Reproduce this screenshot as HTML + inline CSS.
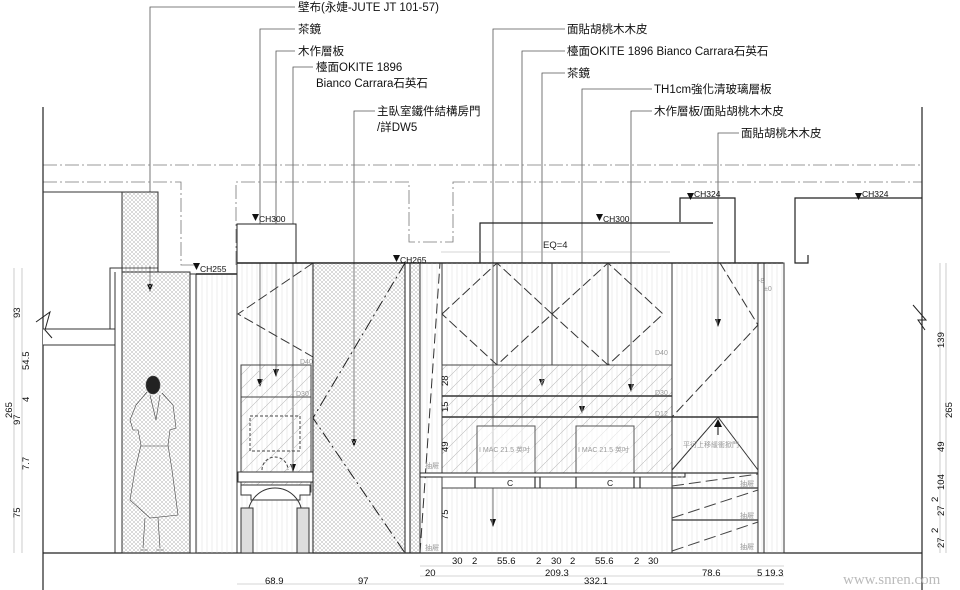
<!DOCTYPE html>
<html><head><meta charset="utf-8"><style>
html,body{margin:0;padding:0;background:#fff;}
svg{display:block;}
text{font-family:"Liberation Sans","Noto Sans CJK TC",sans-serif;fill:#111;}
.lab{font-size:11.5px;}
.dim{font-size:9.5px;fill:#222;}
.ch{font-size:8.5px;}
.g{font-size:7px;fill:#999;}
</style></head><body>
<svg width="960" height="590" viewBox="0 0 960 590" xmlns="http://www.w3.org/2000/svg">
<defs>
<pattern id="xh" width="4" height="4" patternUnits="userSpaceOnUse">
<path d="M0,0L4,4M4,0L0,4" stroke="#b5b5b5" stroke-width="0.5"/></pattern>
<pattern id="dg" width="14" height="14" patternUnits="userSpaceOnUse">
<path d="M0,14L14,0" stroke="#bbb" stroke-width="0.6"/></pattern>
<pattern id="vl" width="5" height="10" patternUnits="userSpaceOnUse">
<path d="M2,0V10" stroke="#e2e2e2" stroke-width="0.6"/></pattern>
</defs>

<!-- leaders -->
<g stroke="#555" stroke-width="0.8" fill="none">
<path d="M150,290V7H295"/><path d="M260,385V29H295"/><path d="M276,375V51H295"/>
<path d="M293,470V67H313"/><path d="M354,445V111H375"/>
<path d="M493,525V29H565"/><path d="M522,480V51H565"/><path d="M542,385V73H565"/>
<path d="M582,412V89H652"/><path d="M631,390V111H652"/><path d="M718,325V133H739"/>
</g>
<g fill="#111">
<path d="M147,284h6l-3,8z"/><path d="M257,379h6l-3,8z"/><path d="M273,369h6l-3,8z"/>
<path d="M290,464h6l-3,8z"/><path d="M351,439h6l-3,8z"/><path d="M490,519h6l-3,8z"/>
<path d="M519,474h6l-3,8z"/><path d="M539,379h6l-3,8z"/><path d="M579,406h6l-3,8z"/>
<path d="M628,384h6l-3,8z"/><path d="M715,319h6l-3,8z"/>
</g>
<text class="lab" x="298" y="11">壁布(永婕-JUTE JT 101-57)</text>
<text class="lab" x="298" y="33">茶鏡</text>
<text class="lab" x="298" y="55">木作層板</text>
<text class="lab" x="316" y="71">檯面OKITE 1896</text>
<text class="lab" x="316" y="87">Bianco Carrara石英石</text>
<text class="lab" x="377" y="115">主臥室鐵件結構房門</text>
<text class="lab" x="377" y="131">/詳DW5</text>
<text class="lab" x="567" y="33">面貼胡桃木木皮</text>
<text class="lab" x="567" y="55">檯面OKITE 1896  Bianco Carrara石英石</text>
<text class="lab" x="567" y="77">茶鏡</text>
<text class="lab" x="654" y="93">TH1cm強化清玻璃層板</text>
<text class="lab" x="654" y="115">木作層板/面貼胡桃木木皮</text>
<text class="lab" x="741" y="137">面貼胡桃木木皮</text>

<!-- dash-dot ceiling -->
<g stroke="#777" stroke-width="0.8" fill="none" stroke-dasharray="14,3,2,3">
<path d="M43,165H922"/>
<path d="M43,182H181V265H196"/>
<path d="M236,265V182H409V242H453V182H922"/>
</g>

<!-- walls -->
<g stroke="#222" stroke-width="1.2" fill="none">
<path d="M43,107V590"/><path d="M922,107V590"/>
<path d="M43,553H922"/>
</g>
<g stroke="#333" stroke-width="1" fill="#fff">
<path d="M43,192H158V272"/>
<path d="M43,329H115V345H43"/>
<path d="M110,272V268H158"/>
</g>
<rect x="122" y="192" width="36" height="80" fill="url(#xh)" stroke="#333"/>
<rect x="122" y="272" width="68" height="281" fill="url(#xh)" stroke="#333"/>
<path d="M115,272V553M110,272V329" stroke="#333" fill="none"/>
<path d="M36,322L50,312L45,330L52,338" stroke="#222" fill="none"/>
<path d="M913,305L926,320L918,320L925,330" stroke="#222" fill="none"/>
<rect x="190" y="274" width="6" height="279" fill="#fff" stroke="#333"/>
<rect x="196" y="274" width="41" height="279" fill="url(#vl)" stroke="#333" stroke-width="0.6"/>
<path d="M196,274H237" stroke="#222" stroke-width="1.4"/>
<path d="M193,263h7l-3.5,7z" fill="#111"/><text class="ch" x="200" y="272">CH255</text>

<!-- left cabinet -->
<rect x="237" y="224" width="59" height="39" fill="#fff" stroke="#222"/>
<path d="M252,214h7l-3.5,7z" fill="#111"/><text class="ch" x="259" y="222">CH300</text>
<rect x="237" y="263" width="76" height="290" fill="url(#vl)" stroke="#333"/>
<path d="M237,263H420" stroke="#222" stroke-width="1.4"/>
<rect x="241" y="365" width="70" height="32" fill="url(#dg)" stroke="#444"/>
<rect x="241" y="397" width="70" height="95" fill="url(#dg)" stroke="#444"/>
<rect x="250" y="416" width="50" height="35" fill="none" stroke="#444" stroke-dasharray="3,2"/>
<path d="M262,470a13,13 0 0 1 26,0" fill="none" stroke="#444" stroke-dasharray="3,2"/>
<path d="M238,472H313V482H238Z" fill="#fff" stroke="#333"/>
<path d="M241,485H310V495H300V500H251V495H241Z" fill="#fff" stroke="#333"/>
<path d="M248,553V515A27,27 0 0 1 302,515V553" fill="none" stroke="#333"/>
<rect x="241" y="508" width="12" height="45" fill="#ddd" stroke="#333"/>
<rect x="297" y="508" width="12" height="45" fill="#ddd" stroke="#333"/>
<path d="M313,263L238,314L313,357" stroke="#333" fill="none" stroke-dasharray="10,4"/>
<text class="g" x="300" y="364">D40</text><text class="g" x="296" y="396">D30</text>

<!-- door -->
<rect x="313" y="263" width="92" height="290" fill="url(#xh)" stroke="#222"/>
<path d="M405,263L313,418L405,553" stroke="#222" fill="none" stroke-dasharray="12,4,2,4"/>
<path d="M405,263V553M410,263V553M420,263V553" stroke="#222"/>
<rect x="410" y="263" width="10" height="290" fill="url(#xh)" stroke="#222"/>
<path d="M393,255h7l-3.5,7z" fill="#111"/><text class="ch" x="400" y="263">CH265</text>

<!-- right cabinet -->
<path d="M480,263V223H713" fill="none" stroke="#222" stroke-width="1.2"/>
<path d="M596,214h7l-3.5,7z" fill="#111"/><text class="ch" x="603" y="222">CH300</text>
<path d="M680,222V198H735V263" fill="none" stroke="#222" stroke-width="1.2"/>
<path d="M687,193h7l-3.5,7z" fill="#111"/><text class="ch" x="694" y="197">CH324</text>
<path d="M922,198H795V263H808V255" fill="none" stroke="#222" stroke-width="1.2"/>
<path d="M855,193h7l-3.5,7z" fill="#111"/><text class="ch" x="862" y="197">CH324</text>
<text class="dim" x="543" y="248">EQ=4</text>
<path d="M441,252H670" stroke="#aaa" stroke-width="0.6"/>
<path d="M420,263H783" stroke="#222" stroke-width="1.4"/>
<rect x="420" y="263" width="22" height="290" fill="url(#vl)" stroke="#333"/>
<path d="M420,553L440,263" stroke="#333" stroke-dasharray="10,5" fill="none"/>
<rect x="442" y="263" width="230" height="290" fill="url(#vl)" stroke="#333"/>
<path d="M497,263V365M552,263V365M608,263V365" stroke="#444"/>
<path d="M442,314L497,263L552,314L497,365ZM552,314L608,263L663,314L608,365Z" fill="none" stroke="#333" stroke-dasharray="10,4"/>
<rect x="442" y="365" width="230" height="108" fill="url(#dg)" stroke="#444"/>
<path d="M442,396H672M442,417H672" stroke="#333" stroke-width="1.4"/>
<rect x="477" y="426" width="58" height="47" fill="#fff" fill-opacity="0.6" stroke="#555"/>
<rect x="576" y="426" width="58" height="47" fill="#fff" fill-opacity="0.6" stroke="#555"/>
<text class="g" x="479" y="452">I MAC 21.5 英吋</text><text class="g" x="578" y="452">I MAC 21.5 英吋</text>
<rect x="420" y="473" width="265" height="4" fill="#fff" stroke="#222"/>
<rect x="442" y="477" width="230" height="11" fill="#fff" stroke="#444"/>
<path d="M475,477V488M535,477V488M540,477V488M576,477V488M634,477V488M640,477V488" stroke="#333" stroke-width="1.2"/>
<text class="ch" x="507" y="486">C</text><text class="ch" x="607" y="486">C</text>
<text class="g" x="655" y="355">D40</text><text class="g" x="655" y="395">D30</text><text class="g" x="655" y="416">D12</text>
<rect x="672" y="263" width="86" height="290" fill="url(#vl)" stroke="#333"/>
<path d="M672,417H758" stroke="#333" stroke-width="1.4"/>
<path d="M720,263L758,325L672,417" fill="none" stroke="#333" stroke-dasharray="10,4"/>
<path d="M672,470L718,417L758,470" fill="none" stroke="#333"/>
<path d="M718,420V435" stroke="#111"/><path d="M714,427l4,-8l4,8z" fill="#111"/>
<text class="g" x="683" y="447">平行上移緩衝掀門</text>
<path d="M672,473H758M672,488H758M672,520H758" stroke="#333" stroke-width="1.2"/>
<path d="M672,486L758,474M672,518L758,490M672,551L758,522" stroke="#444" stroke-dasharray="12,5"/>
<text class="g" x="740" y="486">抽屜</text><text class="g" x="740" y="518">抽屜</text><text class="g" x="740" y="549">抽屜</text>
<rect x="758" y="263" width="26" height="290" fill="url(#vl)" stroke="#333"/>
<path d="M764,263V553" stroke="#333"/>
<text class="g" x="758" y="283">-8</text><text class="g" x="764" y="291">±0</text>
<text class="g" x="425" y="468">抽屜</text><text class="g" x="425" y="550">抽屜</text>

<!-- person -->
<g stroke="#444" fill="none" stroke-width="0.6">
<ellipse cx="153" cy="385" rx="7" ry="9" fill="#222"/>
<path d="M147,392L136,405L130,420L133,430L138,430L141,445L135,470L130,500L150,518L178,515L172,470L168,445L170,430L176,428L173,405L162,393"/>
<path d="M150,395L156,420L160,395"/><path d="M141,446H168"/>
<path d="M145,518L143,548M158,518L160,548"/><path d="M140,550h8M156,550h8"/>
</g>

<!-- left dims -->
<g stroke="#aaa" stroke-width="0.6"><path d="M14,268V553M22,268V553"/></g>
<g class="dim">
<text transform="translate(20,318) rotate(-90)">93</text>
<text transform="translate(29,370) rotate(-90)">54.5</text>
<text transform="translate(29,402) rotate(-90)">4</text>
<text transform="translate(20,425) rotate(-90)">97</text>
<text transform="translate(12,418) rotate(-90)">265</text>
<text transform="translate(29,470) rotate(-90)">7.7</text>
<text transform="translate(20,518) rotate(-90)">75</text>
<text transform="translate(448,386) rotate(-90)">28</text>
<text transform="translate(448,412) rotate(-90)">15</text>
<text transform="translate(448,452) rotate(-90)">49</text>
<text transform="translate(448,520) rotate(-90)">75</text>
</g>
<g stroke="#aaa" stroke-width="0.6"><path d="M940,263V553M946,263V553"/></g>
<g class="dim">
<text transform="translate(944,348) rotate(-90)">139</text>
<text transform="translate(952,418) rotate(-90)">265</text>
<text transform="translate(944,452) rotate(-90)">49</text>
<text transform="translate(944,490) rotate(-90)">104</text>
<text transform="translate(938,502) rotate(-90)">2</text>
<text transform="translate(944,516) rotate(-90)">27</text>
<text transform="translate(938,533) rotate(-90)">2</text>
<text transform="translate(944,548) rotate(-90)">27</text>
</g>
<g stroke="#aaa" stroke-width="0.6"><path d="M420,566H784M420,576H784M237,584H784"/></g>
<g class="dim">
<text x="452" y="564">30</text><text x="472" y="564">2</text><text x="497" y="564">55.6</text>
<text x="536" y="564">2</text><text x="551" y="564">30</text><text x="570" y="564">2</text>
<text x="595" y="564">55.6</text><text x="634" y="564">2</text><text x="648" y="564">30</text>
<text x="425" y="576">20</text><text x="545" y="576">209.3</text><text x="702" y="576">78.6</text><text x="757" y="576">5 19.3</text>
<text x="265" y="584">68.9</text><text x="358" y="584">97</text><text x="584" y="584">332.1</text>
</g>
<text x="843" y="584" style="font-family:'Liberation Serif',serif;font-size:15px;fill:#bbb">www.snren.com</text>
</svg>
</body></html>
